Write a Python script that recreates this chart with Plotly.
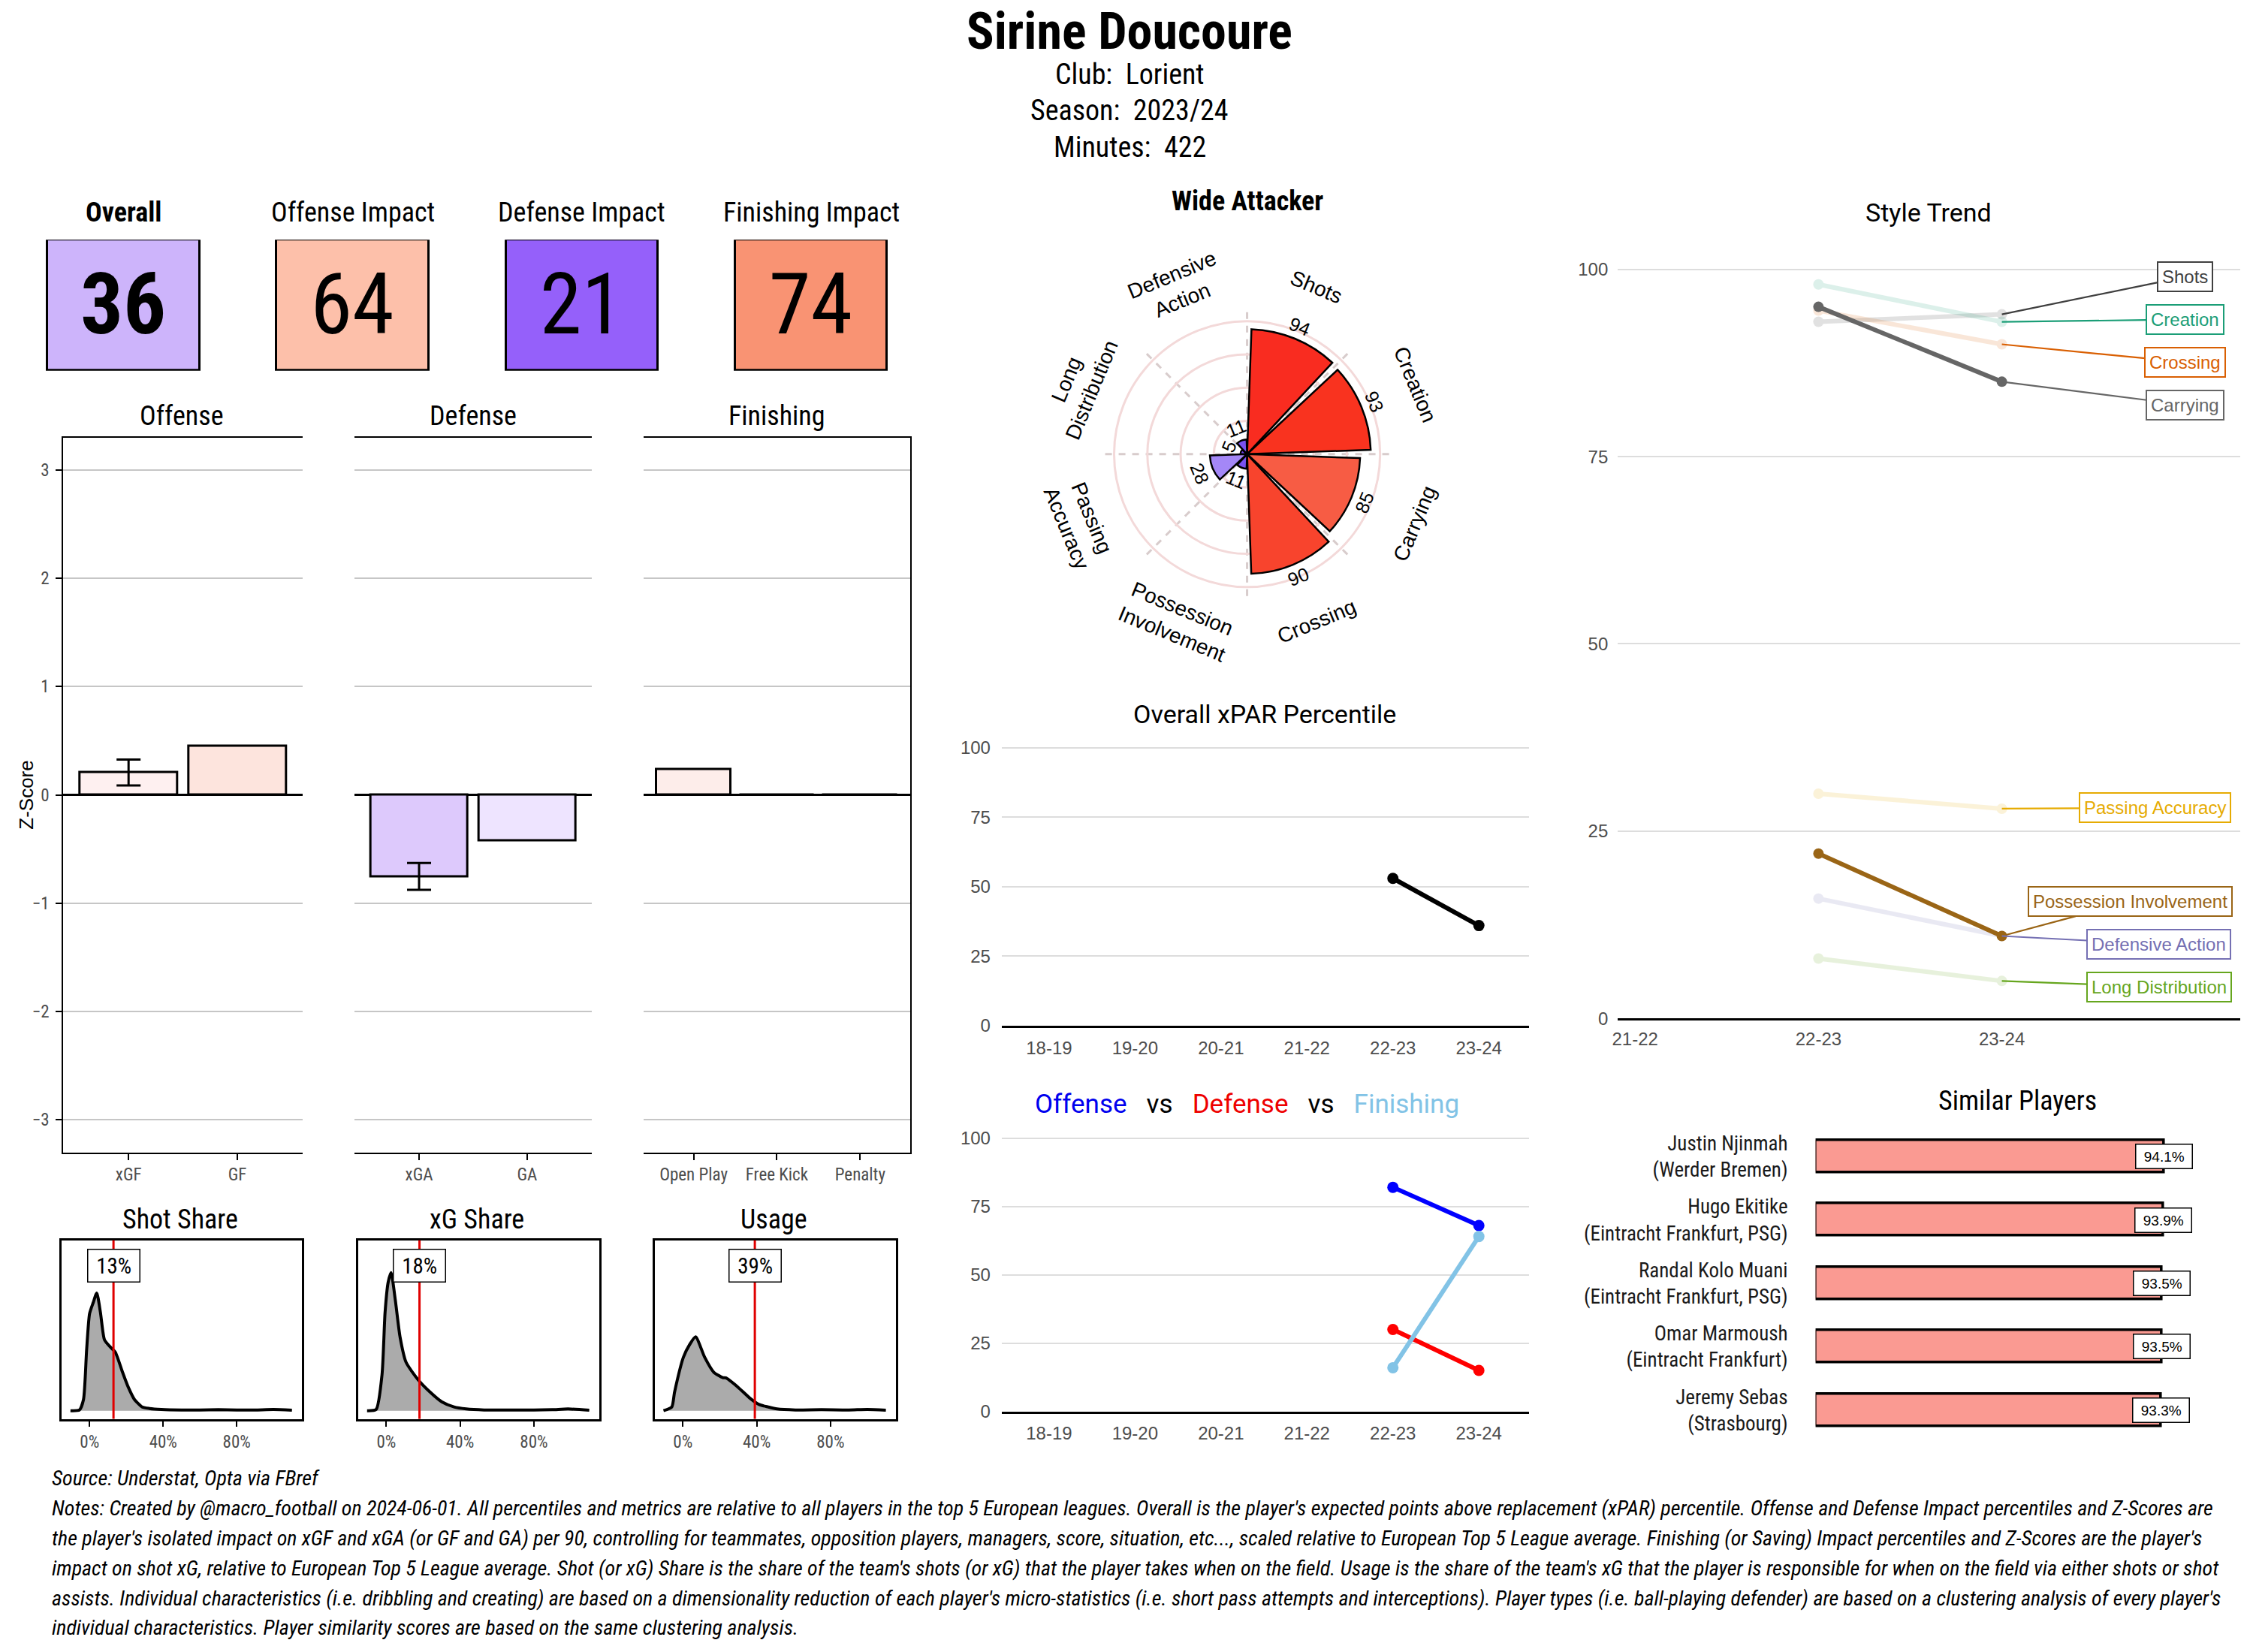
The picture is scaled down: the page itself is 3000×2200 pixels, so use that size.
import math
import plotly.graph_objects as go

W, H = 3000, 2200


def PX(x):
    return min(1.0, max(0.0, x / W))


def PY(y):
    return min(1.0, max(0.0, 1 - y / H))


COND = "Roboto Condensed, Liberation Sans Narrow, Arial Narrow, DejaVu Sans Condensed, sans-serif"
ARIAL = "Liberation Sans, Arial, Helvetica, sans-serif"
ROBO = "Roboto, Liberation Sans, sans-serif"

# ---------------- data ----------------
player_name = "Sirine Doucoure"
club = "Lorient"
season = "2023/24"
minutes = 422

kpi_names = ["Overall", "Offense Impact", "Defense Impact", "Finishing Impact"]
kpi_values = [36, 64, 21, 74]
kpi_colors = ["#CDB4FB", "#FDC0AA", "#9560FA", "#F99373"]

off_cats = ["xGF", "GF"]
off_vals = [0.206, 0.45]
off_colors = ["#FEF0F0", "#FDE4DD"]
xgf_err = [0.087, 0.326]

def_cats = ["xGA", "GA"]
def_vals = [-0.752, -0.422]
def_colors = ["#DDC9FC", "#EEE4FF"]
xga_err = [-0.876, -0.628]

fin_cats = ["Open Play", "Free Kick", "Penalty"]
fin_vals = [0.239, 0.0, 0.0]
fin_colors = ["#FDEDEA", "#FFFFFF", "#FFFFFF"]

share_titles = ["Shot Share", "xG Share", "Usage"]
share_values = [0.13, 0.18, 0.39]

shot_dens_x = [-0.104, -0.055, -0.033, -0.016, 0.0, 0.02, 0.039, 0.059, 0.081, 0.114, 0.14,
               0.179, 0.21, 0.244, 0.286, 0.325, 0.39, 0.5, 0.6, 0.7, 0.8, 0.9, 1.0, 1.1]
shot_dens_y = [0.0, 0.03, 0.45, 2.45, 3.9, 4.35, 4.73, 3.95, 2.85, 2.55, 2.35,
               1.55, 0.95, 0.45, 0.15, 0.09, 0.05, 0.03, 0.03, 0.04, 0.03, 0.03, 0.05, 0.02]

xg_dens_x = [-0.104, -0.055, -0.023, -0.0065, 0.01, 0.026, 0.049, 0.075, 0.107, 0.172, 0.237,
             0.302, 0.367, 0.433, 0.53, 0.65, 0.8, 0.9, 0.985, 1.1]
xg_dens_y = [0.0, 0.05, 1.45, 3.95, 5.15, 5.55, 4.45, 2.95, 1.95, 1.25, 0.75,
             0.35, 0.15, 0.07, 0.03, 0.03, 0.03, 0.04, 0.07, 0.02]

usage_dens_x = [-0.105, -0.06, -0.045, 0.003, 0.036, 0.069, 0.118, 0.167, 0.216, 0.233, 0.298,
                0.364, 0.413, 0.462, 0.51, 0.61, 0.75, 0.9, 1.0, 1.1]
usage_dens_y = [0.0, 0.15, 0.75, 2.15, 2.65, 2.97, 2.15, 1.55, 1.33, 1.32, 0.95,
                0.5, 0.25, 0.15, 0.07, 0.03, 0.04, 0.03, 0.05, 0.02]

radar_cats = ["Shots", "Creation", "Carrying", "Crossing", "Possession<br>Involvement",
              "Passing<br>Accuracy", "Long<br>Distribution", "Defensive<br>Action"]
radar_vals = [94, 93, 85, 90, 11, 28, 5, 11]
radar_colors = ["#F92C20", "#F9331F", "#F75C44", "#F8442D", "#7A52F0", "#A487F7", "#6B3FEF", "#7A52F0"]

seasons = ["18-19", "19-20", "20-21", "21-22", "22-23", "23-24"]
pct_seasons = ["22-23", "23-24"]
xpar_vals = [53, 36]
off_pct = [82, 68]
def_pct = [30, 15]
fin_pct = [16, 64]

style_seasons = ["21-22", "22-23", "23-24"]
style_names = ["Shots", "Creation", "Crossing", "Carrying", "Passing Accuracy",
               "Possession Involvement", "Defensive Action", "Long Distribution"]
style_2223 = [93, 98, 94.5, 95, 30, 22, 16, 8]
style_2324 = [94, 93, 90, 85, 28, 11, 11, 5]
style_colors = ["#404040", "#1B9E77", "#D95F02", "#666666", "#E6AB02", "#9A6516", "#7570B3", "#66A61E"]
style_highlight = [False, False, False, True, False, True, False, False]
# repelled label placement (layout, not data)
style_label_x = [3.0, 3.0, 3.0, 3.0, 2.835, 2.70, 2.857, 2.857]
style_label_y = [99.0, 93.3, 87.6, 81.9, 28.1, 15.6, 9.9, 4.2]

sim_names = ["Justin Njinmah<br>(Werder Bremen)", "Hugo Ekitike<br>(Eintracht Frankfurt, PSG)",
             "Randal Kolo Muani<br>(Eintracht Frankfurt, PSG)", "Omar Marmoush<br>(Eintracht Frankfurt)",
             "Jeremy Sebas<br>(Strasbourg)"]
sim_vals = [94.1, 93.9, 93.5, 93.5, 93.3]

notes_lines = [
    "Notes: Created by @macro_football on 2024-06-01. All percentiles and metrics are relative to all players in the top 5 European leagues. Overall is the player's expected points above replacement (xPAR) percentile. Offense and Defense Impact percentiles and Z-Scores are",
    "the player's isolated impact on xGF and xGA (or GF and GA) per 90, controlling for teammates, opposition players, managers, score, situation, etc..., scaled relative to European Top 5 League average. Finishing (or Saving) Impact percentiles and Z-Scores are the player's",
    "impact on shot xG, relative to European Top 5 League average. Shot (or xG) Share is the share of the team's shots (or xG) that the player takes when on the field. Usage is the share of the team's xG that the player is responsible for when on the field via either shots or shot",
    "assists. Individual characteristics (i.e. dribbling and creating) are based on a dimensionality reduction of each player's micro-statistics (i.e. short pass attempts and interceptions). Player types (i.e. ball-playing defender) are based on a clustering analysis of every player's",
    "individual characteristics. Player similarity scores are based on the same clustering analysis.",
]

# ---------------- figure ----------------
fig = go.Figure()
ann = []
shapes = []


def note(x, y, text, font, **kw):
    d = dict(x=PX(x), y=PY(y), xref="paper", yref="paper", showarrow=False, text=text, font=font,
             xanchor="center", yanchor="middle")
    d.update(kw)
    ann.append(d)


# KPI tiles (axis x / y)
fig.add_trace(go.Bar(
    x=list(range(len(kpi_values))), y=[1] * len(kpi_values), width=0.664,
    marker=dict(color=kpi_colors, line=dict(color="black", width=3)),
    text=[("<b>%d</b>" % v if i == 0 else str(v)) for i, v in enumerate(kpi_values)],
    textposition="inside", insidetextanchor="middle", constraintext="none",
    textfont=dict(family=COND, size=113, color="black"),
    xaxis="x", yaxis="y", showlegend=False, hoverinfo="skip"))
for i, n in enumerate(kpi_names):
    ann.append(dict(x=i, y=PY(279), xref="x", yref="paper", showarrow=False, xanchor="center", yanchor="middle",
                    text=("<b>%s</b>" % n if i == 0 else n),
                    font=dict(family=COND, size=36, color="black")))


# Z-score panels
def zbar(cats, vals, colors, ax):
    fig.add_trace(go.Bar(x=cats, y=vals, width=0.9,
                         marker=dict(color=colors, line=dict(color="black", width=3)),
                         xaxis="x" + ax, yaxis="y" + ax, showlegend=False, hoverinfo="skip"))


zbar(off_cats, off_vals, off_colors, "2")
zbar(def_cats, def_vals, def_colors, "3")
zbar(fin_cats, fin_vals, fin_colors, "4")

fig.add_trace(go.Scatter(x=[off_cats[0]], y=[off_vals[0]], mode="markers", marker=dict(opacity=0),
                         error_y=dict(type="data", symmetric=False, array=[xgf_err[1] - off_vals[0]],
                                      arrayminus=[off_vals[0] - xgf_err[0]], color="black", thickness=3, width=16),
                         xaxis="x2", yaxis="y2", showlegend=False, hoverinfo="skip"))
fig.add_trace(go.Scatter(x=[def_cats[0]], y=[def_vals[0]], mode="markers", marker=dict(opacity=0),
                         error_y=dict(type="data", symmetric=False, array=[xga_err[1] - def_vals[0]],
                                      arrayminus=[def_vals[0] - xga_err[0]], color="black", thickness=3, width=16),
                         xaxis="x3", yaxis="y3", showlegend=False, hoverinfo="skip"))

for t, xc in zip(["Offense", "Defense", "Finishing"], [235, 624, 1029]):
    note(xc, 553, t, dict(family=COND, size=36, color="black"))
note(27, 1062, "Z-Score", dict(family=ARIAL, size=26, color="black"), textangle=-90)

# density panels
dens = [(shot_dens_x, shot_dens_y), (xg_dens_x, xg_dens_y), (usage_dens_x, usage_dens_y)]
dens_cx = [233, 629, 1025]
for k, (dx, dy) in enumerate(dens):
    a = str(5 + k)
    fig.add_trace(go.Scatter(x=dx, y=dy, mode="lines", fill="tozeroy", fillcolor="#ABABAB",
                             line=dict(color="black", width=4, shape="spline", smoothing=0.6),
                             xaxis="x" + a, yaxis="y" + a, showlegend=False, hoverinfo="skip"))
    shapes.append(dict(type="line", xref="x" + a, yref="y" + a + " domain", x0=share_values[k],
                       x1=share_values[k], y0=0, y1=1, line=dict(color="#E00000", width=3)))
    ann.append(dict(x=share_values[k], y=5.82, xref="x" + a, yref="y" + a, showarrow=False,
                    xanchor="center", yanchor="middle",
                    text="&nbsp;%d%%&nbsp;" % round(share_values[k] * 100), bgcolor="white", bordercolor="black",
                    borderwidth=1.5, borderpad=4, font=dict(family=COND, size=29, color="black")))
    note(dens_cx[k], 1632, share_titles[k], dict(family=COND, size=36, color="black"))

# polar radar
PCX, PCY, PR = 1657, 604, 196.5
RMAX = 110
theta = [22.5 + 45 * i for i in range(len(radar_vals))]
fig.add_trace(go.Barpolar(r=radar_vals, theta=theta, width=[41] * len(radar_vals),
                          marker=dict(color=radar_colors, line=dict(color="black", width=2.5)),
                          showlegend=False, hoverinfo="skip"))


def pol(th, r):
    R = r / RMAX * PR
    return PCX + R * math.sin(math.radians(th)), PCY - R * math.cos(math.radians(th))


def tang(th):
    if th < 90:
        return th
    if th < 270:
        return th - 180
    return th - 360


for th, c, v in zip(theta, radar_cats, radar_vals):
    x, y = pol(th, 136)
    note(x, y, c, dict(family=ARIAL, size=28, color="black"), textangle=tang(th))
    x, y = pol(th, v + 10)
    note(x, y, str(v), dict(family=ARIAL, size=25, color="black"), textangle=tang(th))
note(1657, 264, "<b>Wide Attacker</b>", dict(family=COND, size=36, color="black"))

# xPAR percentile
sidx = [seasons.index(s) for s in pct_seasons]
fig.add_trace(go.Scatter(x=sidx, y=xpar_vals, mode="lines+markers",
                         line=dict(color="black", width=6), marker=dict(color="black", size=15),
                         xaxis="x8", yaxis="y8", showlegend=False, hoverinfo="skip"))
note(1680, 953, "Overall xPAR Percentile", dict(family=ROBO, size=34, color="black"))

# offense vs defense vs finishing
for vals, col in [(off_pct, "#0000FF"), (def_pct, "#FF0000"), (fin_pct, "#82C3E6")]:
    fig.add_trace(go.Scatter(x=sidx, y=vals, mode="lines+markers",
                             line=dict(color=col, width=6), marker=dict(color=col, size=15),
                             xaxis="x9", yaxis="y9", showlegend=False, hoverinfo="skip"))
note(1657, 1477, ("<span style='color:#0000EE'>Offense</span>&nbsp;&nbsp;&nbsp;vs&nbsp;&nbsp;&nbsp;"
                  "<span style='color:#EE0000'>Defense</span>&nbsp;&nbsp;&nbsp;vs&nbsp;&nbsp;&nbsp;"
                  "<span style='color:#82C3E6'>Finishing</span>"),
     dict(family=ROBO, size=35, color="black"))

# style trend
order = [i for i in range(len(style_names)) if not style_highlight[i]] + \
        [i for i in range(len(style_names)) if style_highlight[i]]
for i in order:
    hl = style_highlight[i]
    fig.add_trace(go.Scatter(x=[1, 2], y=[style_2223[i], style_2324[i]], mode="lines+markers",
                             line=dict(color=style_colors[i], width=6),
                             marker=dict(color=style_colors[i], size=14),
                             opacity=1.0 if hl else 0.15,
                             xaxis="x10", yaxis="y10", showlegend=False, hoverinfo="skip"))
for i in range(len(style_names)):
    ann.append(dict(x=2, y=style_2324[i], xref="x10", yref="y10", ax=style_label_x[i], ay=style_label_y[i],
                    axref="x10", ayref="y10", showarrow=True, arrowhead=0, arrowwidth=2.2,
                    arrowcolor=style_colors[i], standoff=0, text=style_names[i], bgcolor="white",
                    xanchor="center", yanchor="middle",
                    bordercolor=style_colors[i], borderwidth=2, borderpad=5,
                    font=dict(family=ARIAL, size=24, color=style_colors[i])))
note(2567, 279, "Style Trend", dict(family=ROBO, size=34, color="black"))

# similar players
fig.add_trace(go.Bar(x=sim_vals, y=list(range(len(sim_vals))), orientation="h", width=0.51,
                     marker=dict(color="#FA9A92", line=dict(color="black", width=3.5)),
                     xaxis="x11", yaxis="y11", showlegend=False, hoverinfo="skip"))
for i, v in enumerate(sim_vals):
    ann.append(dict(x=v, y=i, xref="x11", yref="y11", showarrow=False, text="&nbsp;%.1f%%&nbsp;" % v,
                    xanchor="center", yanchor="middle",
                    bgcolor="white", bordercolor="black", borderwidth=1.5, borderpad=5,
                    font=dict(family=ARIAL, size=19, color="black")))
note(2686, 1473, "Similar Players", dict(family=COND, size=36, color="black"))

# header
note(1500, 36, "<b>%s</b>" % player_name, dict(family=COND, size=68, color="black"))
for txt, yy in [("Club:&nbsp; %s" % club, 94), ("Season:&nbsp; %s" % season, 142),
                ("Minutes:&nbsp; %d" % minutes, 192)]:
    note(1500, yy, txt, dict(family=COND, size=38, color="black"))

# notes
note(59, 1980, "<i>Source: Understat, Opta via FBref</i>", dict(family=COND, size=28, color="black"),
     xanchor="left")
for k, line in enumerate(notes_lines):
    note(59, 2020 + 40.2 * k, "<i>%s</i>" % line, dict(family=COND, size=28, color="black"), xanchor="left")

# ---------------- axes ----------------
tickf = dict(family=COND, size=23, color="#4D4D4D")
arialtick = dict(family=ARIAL, size=24, color="#4D4D4D")
L = dict()
L["xaxis"] = dict(domain=[PX(4), PX(1228)], range=[-0.5, 3.5], visible=False, fixedrange=True)
L["yaxis"] = dict(domain=[PY(492), PY(316)], range=[0, 1], visible=False)

zdom = {"2": (76.5, 396), "3": (464.9, 782.4), "4": (851.3, 1207.1)}
zrng = {"2": [-0.6, 1.6], "3": [-0.6, 1.6], "4": [-0.6, 2.6]}
for a in ["2", "3", "4"]:
    L["xaxis" + a] = dict(domain=[PX(zdom[a][0]), PX(zdom[a][1])], range=zrng[a], anchor="y" + a,
                          showline=True, mirror=True, linecolor="black", linewidth=2,
                          ticks="outside", ticklen=8, tickwidth=2, tickcolor="black", tickfont=tickf,
                          showgrid=False, zeroline=False)
    yd = dict(domain=[PY(1542), PY(581.6)], range=[-3.3, 3.3], anchor="x" + a, tickvals=[-3, -2, -1, 0, 1, 2, 3],
              showgrid=True, gridcolor="#C6C6C6", gridwidth=1.5, zeroline=True, zerolinecolor="black",
              zerolinewidth=3, tickfont=tickf)
    if a == "2":
        yd.update(showline=True, linecolor="black", linewidth=2, ticks="outside", ticklen=8, tickwidth=2,
                  tickcolor="black", showticklabels=True, ticklabelstandoff=4)
    elif a == "3":
        yd.update(showline=False, ticks="", showticklabels=False)
    else:
        yd.update(side="right", showline=True, linecolor="black", linewidth=2, ticks="", showticklabels=False)
    L["yaxis" + a] = yd

ddom = {"5": (74, 395), "6": (470, 792), "7": (866, 1188)}
for a in ["5", "6", "7"]:
    L["xaxis" + a] = dict(domain=[PX(ddom[a][0]), PX(ddom[a][1])], range=[-0.153, 1.154], anchor="y" + a,
                          tickvals=[0, 0.4, 0.8], ticktext=["0%", "40%", "80%"], showline=True, mirror=True,
                          linecolor="black", linewidth=2.5, ticks="outside", ticklen=8, tickwidth=2,
                          tickcolor="black", tickfont=tickf, showgrid=False, zeroline=False)
    L["yaxis" + a] = dict(domain=[PY(1900), PY(1660)], range=[-0.33, 6.85], anchor="x" + a,
                          showline=True, mirror=True, linecolor="black", linewidth=2.5,
                          showticklabels=False, ticks="", showgrid=False, zeroline=False)

for a, (y0, y1) in {"8": (1371.6, 991.1), "9": (1890, 1515.4)}.items():
    L["xaxis" + a] = dict(domain=[PX(1329.5), PX(2033)], range=[-0.55, 5.58], anchor="y" + a,
                          tickvals=list(range(len(seasons))), ticktext=seasons, tickfont=arialtick,
                          showgrid=False, zeroline=False, showline=True, linecolor="black", linewidth=3,
                          ticks="", ticklabelstandoff=6)
    L["yaxis" + a] = dict(domain=[PY(y0), PY(y1)], range=[0, 102], anchor="x" + a,
                          tickvals=[0, 25, 50, 75, 100], tickfont=arialtick, showgrid=True,
                          gridcolor="#DDDDDD", gridwidth=1.5, zeroline=False, ticks="", showline=False,
                          ticklabelstandoff=14)

L["xaxis10"] = dict(domain=[PX(2152), PX(2983)], range=[-0.094, 3.30], anchor="y10",
                    tickvals=list(range(len(style_seasons))), ticktext=style_seasons, tickfont=arialtick,
                    showgrid=False, zeroline=False, showline=True, linecolor="black", linewidth=3, ticks="",
                    ticklabelstandoff=4)
L["yaxis10"] = dict(domain=[PY(1362), PY(335.7)], range=[0, 102], anchor="x10",
                    tickvals=[0, 25, 50, 75, 100], tickfont=arialtick, showgrid=True,
                    gridcolor="#DDDDDD", gridwidth=1.5, zeroline=False, ticks="", showline=False,
                    ticklabelstandoff=12)

L["xaxis11"] = dict(domain=[PX(2416), PX(2984)], range=[0, 115], anchor="y11", visible=False)
L["yaxis11"] = dict(domain=[PY(1939), PY(1496.5)], range=[4.6, -0.6], anchor="x11",
                    tickvals=list(range(len(sim_names))), ticktext=sim_names,
                    tickfont=dict(family=COND, size=27, color="#1A1A1A"), ticks="", ticklabelstandoff=36,
                    showgrid=False, zeroline=False, showline=False)

L["polar"] = dict(domain=dict(x=[PX(PCX - PR), PX(PCX + PR)], y=[PY(PCY + PR), PY(PCY - PR)]),
                  bgcolor="white",
                  radialaxis=dict(range=[0, RMAX], tickvals=[25, 50, 75, 100], showticklabels=False, ticks="",
                                  showline=False, gridcolor="#F3D9D9", gridwidth=2.5),
                  angularaxis=dict(direction="clockwise", rotation=90, tickvals=[0, 45, 90, 135, 180, 225, 270, 315],
                                   showticklabels=False, ticks="", showline=False, gridcolor="#D8CCCC",
                                   griddash="dash", gridwidth=2.5))

fig.update_layout(width=W, height=H, margin=dict(l=0, r=0, t=0, b=0), paper_bgcolor="white",
                  plot_bgcolor="white", annotations=ann, shapes=shapes, bargap=0, **L)

fig.write_html("out.html", config={"displayModeBar": False},
               post_script="document.body.style.margin='0px';")
